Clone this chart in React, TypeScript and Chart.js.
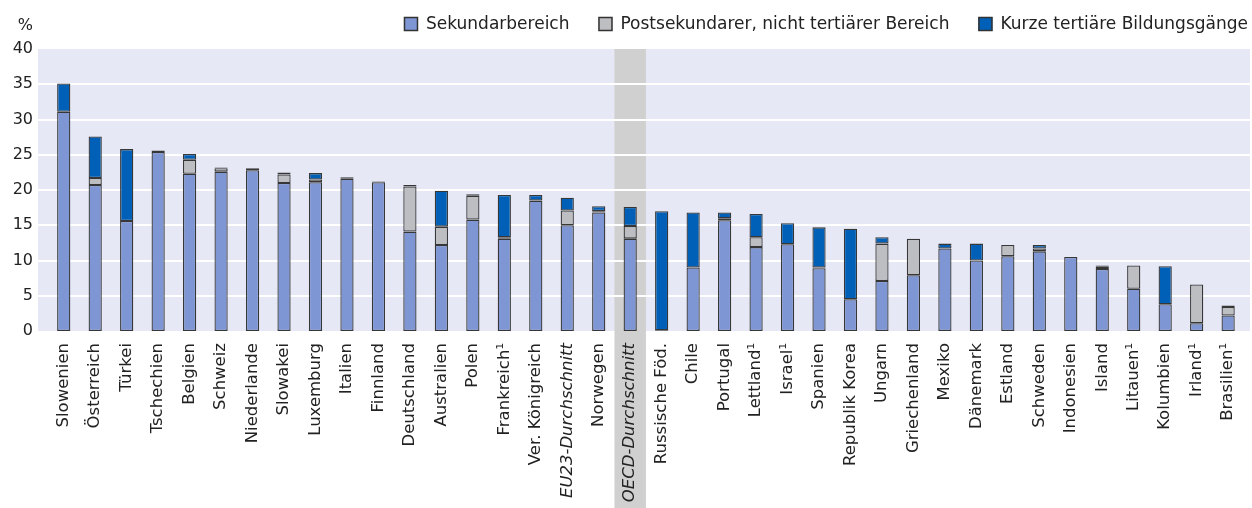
import React, { useEffect, useRef } from "react";
import { Chart, registerables } from "chart.js";

Chart.register(...registerables);

const categories = [
  "Slowenien", "Österreich", "Türkei", "Tschechien", "Belgien", "Schweiz", "Niederlande",
  "Slowakei", "Luxemburg", "Italien", "Finnland", "Deutschland", "Australien", "Polen",
  "Frankreich¹", "Ver. Königreich", "EU23-Durchschnitt", "Norwegen", "OECD-Durchschnitt",
  "Russische Föd.", "Chile", "Portugal", "Lettland¹", "Israel¹", "Spanien", "Republik Korea",
  "Ungarn", "Griechenland", "Mexiko", "Dänemark", "Estland", "Schweden", "Indonesien",
  "Island", "Litauen¹", "Kolumbien", "Irland¹", "Brasilien¹",
];

const sekundarbereich = [
  31.1, 20.7, 15.6, 25.4, 22.3, 22.6, 22.8, 21.0, 21.1, 21.6, 21.1, 14.1, 12.2, 15.8,
  13.1, 18.5, 15.0, 16.8, 13.1, 0.1, 9.0, 15.7, 11.9, 12.3, 8.9, 4.5, 7.1, 7.9, 11.7,
  10.0, 10.6, 11.3, 10.5, 8.8, 6.0, 3.8, 1.1, 2.2,
];

const postsekundar = [
  0, 1.0, 0, 0, 2.0, 0.5, 0, 1.2, 0.4, 0, 0, 6.4, 2.6, 3.4, 0.2, 0, 2.1, 0.2, 1.8, 0, 0,
  0.3, 1.4, 0, 0.1, 0, 5.3, 5.2, 0, 0, 1.6, 0.4, 0, 0.3, 3.3, 0, 5.5, 1.2,
];

const kurzTertiaer = [
  4.0, 5.9, 10.2, 0.2, 0.8, 0.1, 0.3, 0.3, 0.9, 0.2, 0.1, 0.2, 5.1, 0.2, 6.0, 0.8, 1.8,
  0.7, 2.7, 16.9, 7.8, 0.8, 3.3, 3.0, 5.7, 10.0, 0.9, 0, 0.7, 2.4, 0, 0.5, 0, 0.2, 0, 5.4,
  0, 0.2,
];

const yTickValues = [0, 5, 10, 15, 20, 25, 30, 35, 40];
const highlightLabel = "OECD-Durchschnitt";
const italicLabels = ["EU23-Durchschnitt", "OECD-Durchschnitt"];
const seriesNames = [
  "Sekundarbereich",
  "Postsekundarer, nicht tertiärer Bereich",
  "Kurze tertiäre Bildungsgänge",
];
const seriesColors = ["#7f96d4", "#bdbec2", "#0060b8"];

const FONT = "'DejaVu Sans', sans-serif";
const TEXT = "#222222";

const backgroundPlugin = {
  id: "bgBand",
  beforeDraw(chart: any) {
    const { ctx, chartArea, scales } = chart;
    const x = scales.x;
    const y = scales.y;
    const left = chartArea.left - 10;
    ctx.save();
    ctx.fillStyle = "#e6e8f5";
    ctx.fillRect(left, chartArea.top, chart.width - 2 - left, chartArea.bottom - chartArea.top);
    const hi = categories.indexOf(highlightLabel);
    const cw = x.getPixelForValue(1) - x.getPixelForValue(0);
    const cx = x.getPixelForValue(hi);
    ctx.fillStyle = "#d0d0d0";
    ctx.fillRect(cx - cw / 2, chartArea.top, cw, chart.height - chartArea.top);
    ctx.strokeStyle = "#ffffff";
    ctx.lineWidth = 2;
    yTickValues.forEach((v) => {
      if (v === 0 || v === 40) return;
      const py = Math.round(y.getPixelForValue(v));
      ctx.beginPath();
      ctx.moveTo(left, py);
      ctx.lineTo(chart.width - 2, py);
      ctx.stroke();
    });
    ctx.restore();
  },
  afterDraw(chart: any) {
    const { ctx, chartArea } = chart;
    ctx.save();
    // unit label
    ctx.font = `16px ${FONT}`;
    ctx.fillStyle = TEXT;
    ctx.textAlign = "right";
    ctx.textBaseline = "alphabetic";
    ctx.fillText("%", chartArea.left - 15, 30);
    // legend
    ctx.font = `17px ${FONT}`;
    ctx.textAlign = "left";
    const box = 14;
    const gap = 8;
    const spacing = 29;
    const ds = chart.data.datasets;
    const widths = ds.map((d: any) => ctx.measureText(d.label).width);
    let total = 0;
    widths.forEach((w: number, i: number) => {
      total += box + gap + w + (i > 0 ? spacing : 0);
    });
    let cursor = chart.width - 4 - total;
    ds.forEach((d: any, i: number) => {
      ctx.fillStyle = d.backgroundColor;
      ctx.fillRect(cursor, 17, box, box);
      ctx.strokeStyle = "#333";
      ctx.lineWidth = 1.5;
      ctx.strokeRect(cursor + 0.5, 17.5, box - 1, box - 1);
      ctx.fillStyle = TEXT;
      ctx.fillText(d.label, cursor + box + gap, 29);
      cursor += box + gap + widths[i] + spacing;
    });
    ctx.restore();
  },
};

export default function App() {
  const ref = useRef<HTMLCanvasElement | null>(null);

  useEffect(() => {
    document.body.style.margin = "0";
    if (!ref.current) return;
    const values = [sekundarbereich, postsekundar, kurzTertiaer];
    const chart = new Chart(ref.current, {
      type: "bar",
      data: {
        labels: categories,
        datasets: values.map((vals, i) => ({
          label: seriesNames[i],
          data: vals,
          backgroundColor: seriesColors[i],
          borderColor: "rgba(35,35,35,0.9)",
          borderWidth: (c: any) => (c.raw ? 1.3 : 0),
          borderSkipped: false,
          barPercentage: 0.42,
          categoryPercentage: 1,
        })),
      },
      plugins: [backgroundPlugin],
      options: {
        responsive: false,
        animation: false,
        layout: { padding: { top: 49, right: 5, left: 0, bottom: 0 } },
        plugins: {
          legend: { display: false },
          tooltip: { enabled: false },
        },
        scales: {
          x: {
            stacked: true,
            grid: { display: false },
            border: { display: false },
            afterFit: (s: any) => {
              s.height = 177;
            },
            ticks: {
              autoSkip: false,
              maxRotation: 90,
              minRotation: 90,
              padding: 4,
              color: TEXT,
              font: (c: any) => ({
                family: FONT,
                size: 16.5,
                style: italicLabels.includes(categories[c.index]) ? "italic" : "normal",
              }),
            },
          },
          y: {
            stacked: true,
            min: 0,
            max: 40,
            grid: { display: false, drawTicks: false },
            border: { display: false },
            afterFit: (s: any) => {
              s.width = 48;
            },
            afterBuildTicks: (s: any) => {
              s.ticks = yTickValues.map((v) => ({ value: v }));
            },
            ticks: {
              padding: 15,
              color: TEXT,
              font: { family: FONT, size: 16 },
            },
          },
        },
      },
    });
    return () => chart.destroy();
  }, []);

  return (
    <div style={{ width: 1252, height: 508 }}>
      <canvas ref={ref} width={1252} height={508} />
    </div>
  );
}
